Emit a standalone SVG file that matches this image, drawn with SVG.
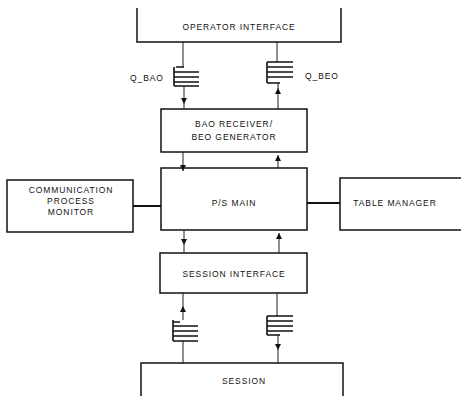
<svg xmlns="http://www.w3.org/2000/svg" width="461" height="396" viewBox="0 0 461 396">
<defs>
<style>
.box{fill:none;stroke:#111;stroke-width:1.5}
.ln{fill:none;stroke:#222;stroke-width:1}
.lk{fill:none;stroke:#111;stroke-width:2}
.q{fill:none;stroke:#111;stroke-width:1.6}
.t{font-family:"Liberation Sans",Arial,sans-serif;font-size:8.5px;letter-spacing:0.9px;fill:#111;text-anchor:middle}
</style>
<marker id="ah" viewBox="0 0 6 8" refX="6" refY="4" markerWidth="6" markerHeight="8" markerUnits="userSpaceOnUse" orient="auto">
<path d="M0,1 L6,4 L0,7 Z" fill="#111"/>
</marker>
</defs>
<rect width="461" height="396" fill="#fff"/>

<g id="connectors">
<path class="ln" d="M183,42 V67"/>
<path class="ln" d="M184,86 V104" marker-end="url(#ah)"/>
<path class="ln" d="M184,104 V109"/>
<path class="ln" d="M277,42 V62"/>
<path class="ln" d="M278,109 V88" marker-end="url(#ah)"/>
<path class="ln" d="M278,88 V83"/>
<path class="ln" d="M183,152 V171" marker-end="url(#ah)"/>
<path class="ln" d="M278,168 V155" marker-end="url(#ah)"/>
<path class="ln" d="M184,230 V245" marker-end="url(#ah)"/>
<path class="ln" d="M184,245 V253"/>
<path class="ln" d="M279,253 V233" marker-end="url(#ah)"/>
<path class="lk" d="M133,206 H161"/>
<path class="lk" d="M307,203 H340"/>
<path class="ln" d="M183,320 V306" marker-end="url(#ah)"/>
<path class="ln" d="M183,306 V293"/>
<path class="ln" d="M183,341 V363"/>
<path class="ln" d="M277,293 V316"/>
<path class="ln" d="M278,335 V350" marker-end="url(#ah)"/>
<path class="ln" d="M278,350 V363"/>
</g>

<g id="operator-interface">
<path class="box" d="M137,8 V42 H341 V8"/>
<text class="t" x="239" y="30">OPERATOR INTERFACE</text>
</g>

<g id="q-bao">
<path class="q" d="M174,67 V86 M176,67 H184 M174,72 H199 M174,77 H199 M174,82 H199 M174,86 H199"/>
<text class="t" x="147" y="81">Q_BAO</text>
</g>

<g id="q-beo">
<path class="q" d="M267,62 V83 M267,62 H293 M267,67 H293 M267,72 H293 M267,77 H293 M267,83 H280"/>
<text class="t" x="322" y="79">Q_BEO</text>
</g>

<g id="bao-receiver">
<rect class="box" x="161" y="109" width="146" height="43"/>
<text class="t" x="234" y="127">BAO RECEIVER/</text>
<text class="t" x="234" y="140">BEO GENERATOR</text>
</g>

<g id="ps-main">
<rect class="box" x="161" y="168" width="146" height="62"/>
<text class="t" x="234" y="206">P/S MAIN</text>
</g>

<g id="comm-monitor">
<rect class="box" x="7" y="180" width="126" height="52"/>
<text class="t" x="71" y="193">COMMUNICATION</text>
<text class="t" x="71" y="204">PROCESS</text>
<text class="t" x="71" y="215">MONITOR</text>
</g>

<g id="table-manager">
<path class="box" d="M461,178 H340 V230 H461"/>
<text class="t" x="395" y="206">TABLE MANAGER</text>
</g>

<g id="session-interface">
<rect class="box" x="160" y="253" width="147" height="40"/>
<text class="t" x="234" y="277">SESSION INTERFACE</text>
</g>

<g id="q-session-in">
<path class="q" d="M173,320 V341 M173,322 H180 M173,326 H198 M173,331 H198 M173,336 H198 M173,341 H198"/>
</g>

<g id="q-session-out">
<path class="q" d="M267,316 V335 M267,316 H293 M267,321 H293 M267,326 H293 M267,331 H293 M267,335 H280"/>
</g>

<g id="session">
<path class="box" d="M141,396 V363 H343 V396"/>
<text class="t" x="244" y="384">SESSION</text>
</g>
</svg>
